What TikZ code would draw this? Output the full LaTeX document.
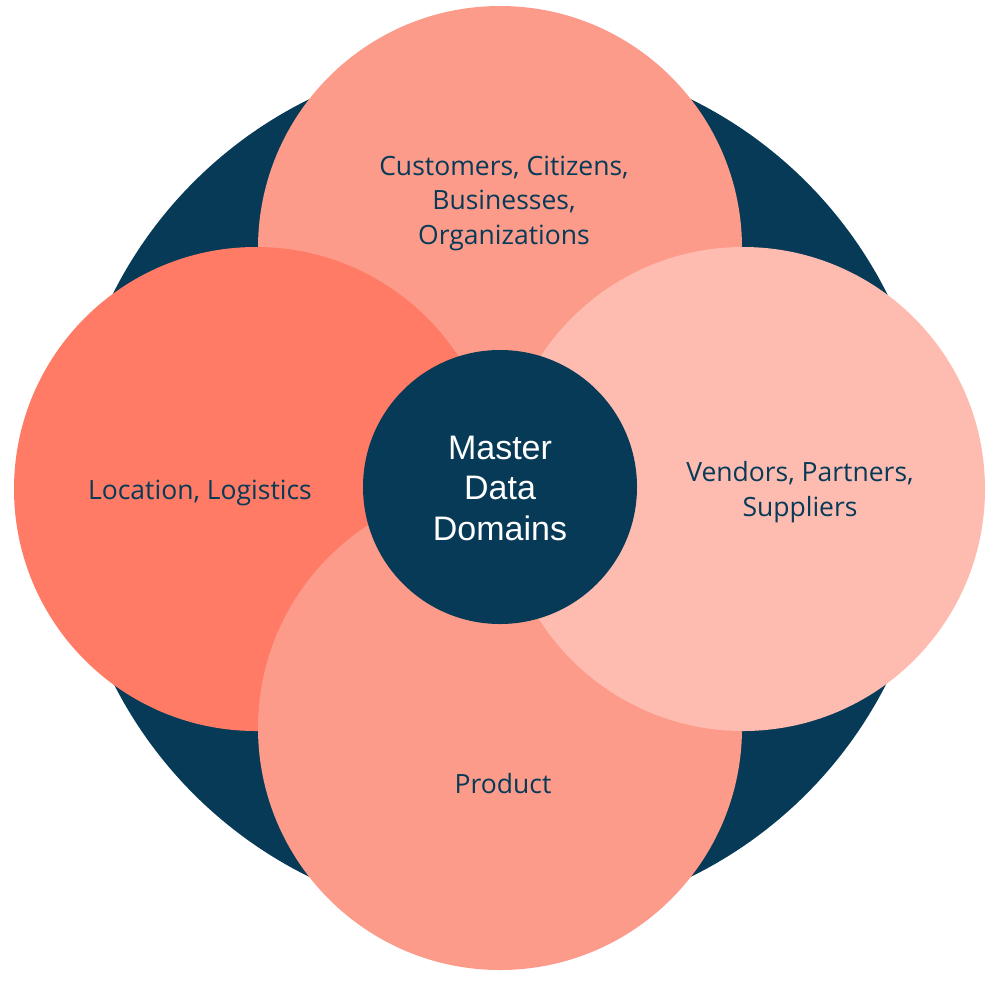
\documentclass[tikz,border=0pt]{standalone}
\usepackage{fontspec}
\setmainfont{Open Sans}
\newfontfamily\centerfont{Liberation Sans}
\definecolor{navy}{RGB}{6,58,87}
\definecolor{coralmid}{RGB}{252,155,138}
\definecolor{coraldark}{RGB}{255,123,101}
\definecolor{corallight}{RGB}{254,188,176}
\begin{document}
\begin{tikzpicture}[x=1pt,y=-1pt,
  disc/.style={circle,draw=none,inner sep=0pt,minimum size=#1},
  label/.style={text=navy,align=center,font=\fontsize{26.5}{34.5}\selectfont},
  hub/.style={text=white,align=center,font=\centerfont\fontsize{34}{40.5}\selectfont}]
\useasboundingbox (0,0) rectangle (998,980);
\node[disc=866pt,fill=navy] (ring) at (500,488) {};
\node[disc=484pt,fill=coralmid] (top) at (500,248) {};
\node[disc=484pt,fill=coraldark] (left) at (256,489) {};
\node[disc=484pt,fill=coralmid] (bottom) at (500,728) {};
\node[disc=484pt,fill=corallight] (right) at (743,489) {};
\node[disc=274pt,fill=navy] (hub) at (500,487) {};
\node[hub] (hubtext) at (500,488) {Master\\Data\\Domains};
\node[label] (toptext) at (504,203) {Customers, Citizens,\\Businesses,\\Organizations};
\node[label] (lefttext) at (200,493) {Location, Logistics};
\node[label] (righttext) at (800,492) {Vendors, Partners,\\Suppliers};
\node[label] (bottomtext) at (503,784) {Product};
\end{tikzpicture}
\end{document}
